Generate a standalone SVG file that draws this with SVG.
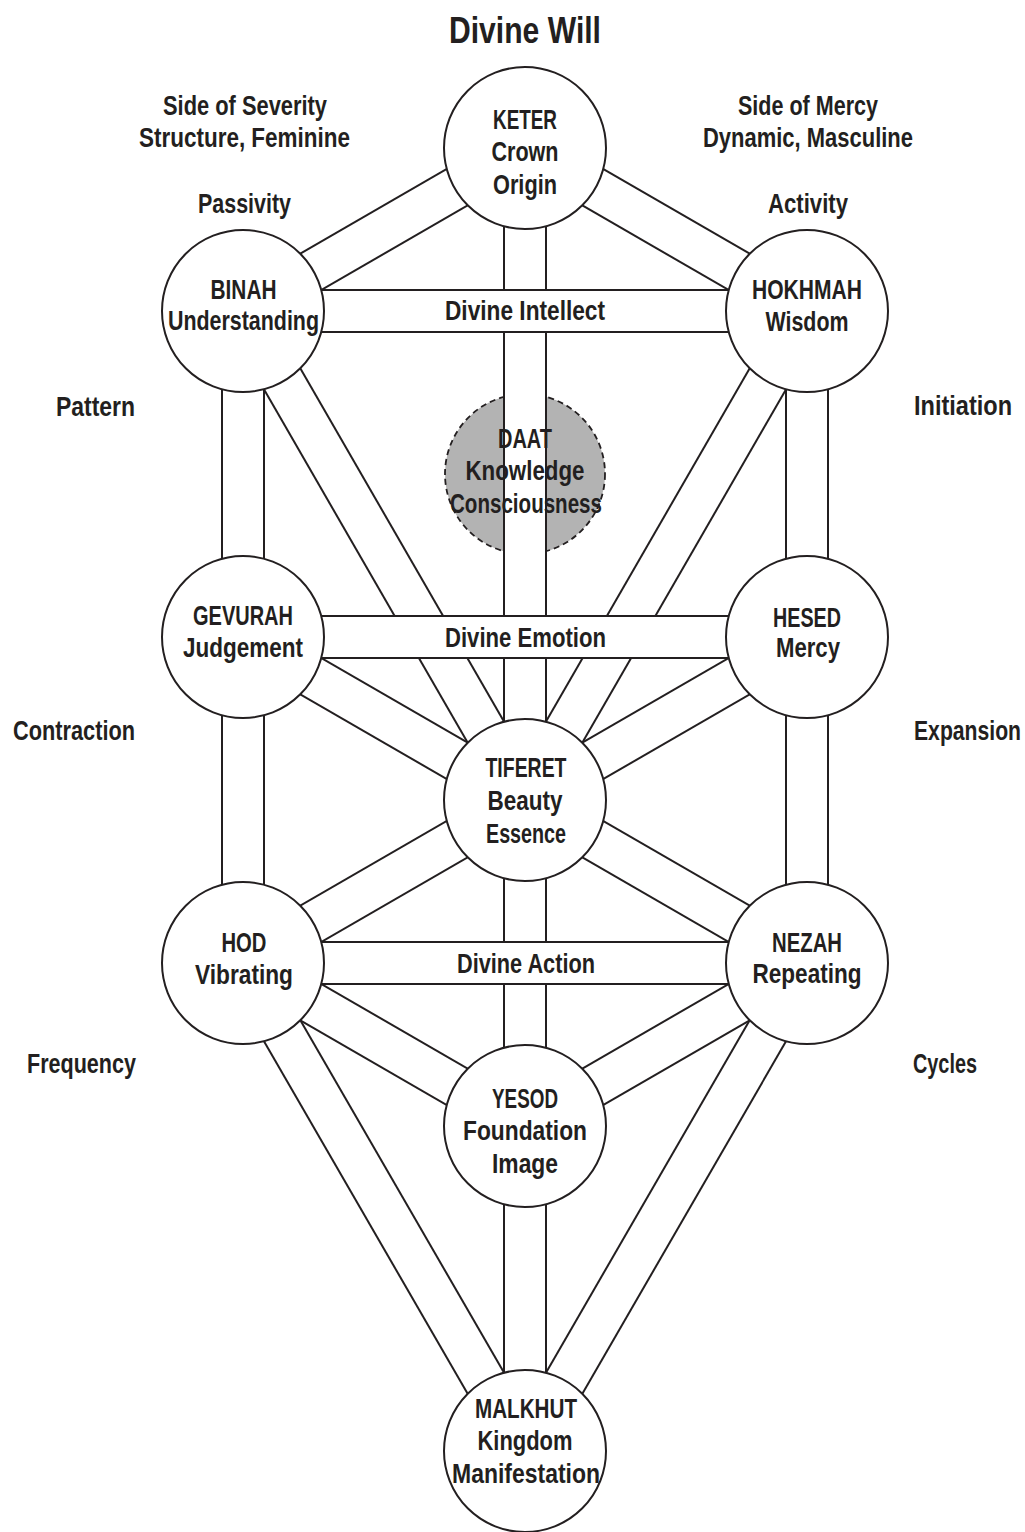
<svg xmlns="http://www.w3.org/2000/svg" width="1025" height="1532" viewBox="0 0 1025 1532">
<style>
.o{stroke:#231f20;stroke-width:44;fill:none}
.i{stroke:#fff;stroke-width:40;fill:none}
.n{fill:#fff;stroke:#231f20;stroke-width:2}
.d{fill:#b3b3b3;stroke:#231f20;stroke-width:1.8;stroke-dasharray:6 4}
.t{font-family:"Liberation Sans Narrow","Liberation Sans",Arial,sans-serif;font-weight:bold;font-size:28px;fill:#231f20;text-anchor:middle}
.e{text-anchor:end}
.s{text-anchor:start}
.h{font-size:37px}
</style>
<defs>
<clipPath id="daatclip">
<rect x="430" y="380" width="73" height="190"/>
<rect x="547" y="380" width="73" height="190"/>
</clipPath>
</defs>
<rect width="1025" height="1532" fill="#fff"/>

<g id="labels">
<text class="t h" x="525" y="43" textLength="152" lengthAdjust="spacingAndGlyphs">Divine Will</text>
<text class="t" x="245" y="115" textLength="164" lengthAdjust="spacingAndGlyphs">Side of Severity</text>
<text class="t" x="244.5" y="147" textLength="211" lengthAdjust="spacingAndGlyphs">Structure, Feminine</text>
<text class="t" x="808" y="115" textLength="140" lengthAdjust="spacingAndGlyphs">Side of Mercy</text>
<text class="t" x="808" y="147" textLength="210" lengthAdjust="spacingAndGlyphs">Dynamic, Masculine</text>
<text class="t" x="244.5" y="213" textLength="93" lengthAdjust="spacingAndGlyphs">Passivity</text>
<text class="t" x="808" y="213" textLength="80" lengthAdjust="spacingAndGlyphs">Activity</text>
<text class="t e" x="135" y="416" textLength="79" lengthAdjust="spacingAndGlyphs">Pattern</text>
<text class="t e" x="1012" y="415" textLength="98" lengthAdjust="spacingAndGlyphs">Initiation</text>
<text class="t e" x="135" y="740" textLength="122" lengthAdjust="spacingAndGlyphs">Contraction</text>
<text class="t e" x="1021" y="740" textLength="107" lengthAdjust="spacingAndGlyphs">Expansion</text>
<text class="t e" x="136" y="1073" textLength="109" lengthAdjust="spacingAndGlyphs">Frequency</text>
<text class="t s" x="913" y="1073" textLength="64" lengthAdjust="spacingAndGlyphs">Cycles</text>
</g>

<g id="connectors">
<g id="p-keter-tiferet"><line class="o" x1="525" y1="148" x2="525" y2="800"/><line class="i" x1="525" y1="148" x2="525" y2="800"/></g>
<g id="p-tiferet-yesod"><line class="o" x1="525" y1="800" x2="525" y2="1126"/><line class="i" x1="525" y1="800" x2="525" y2="1126"/></g>
<g id="p-yesod-malkhut"><line class="o" x1="525" y1="1126" x2="525" y2="1451"/><line class="i" x1="525" y1="1126" x2="525" y2="1451"/></g>
<g id="p-binah-gevurah"><line class="o" x1="243" y1="311" x2="243" y2="637"/><line class="i" x1="243" y1="311" x2="243" y2="637"/></g>
<g id="p-gevurah-hod"><line class="o" x1="243" y1="637" x2="243" y2="963"/><line class="i" x1="243" y1="637" x2="243" y2="963"/></g>
<g id="p-hokhmah-hesed"><line class="o" x1="807" y1="311" x2="807" y2="637"/><line class="i" x1="807" y1="311" x2="807" y2="637"/></g>
<g id="p-hesed-nezah"><line class="o" x1="807" y1="637" x2="807" y2="963"/><line class="i" x1="807" y1="637" x2="807" y2="963"/></g>

<g id="p-keter-binah"><line class="o" x1="525" y1="148" x2="243" y2="311"/><line class="i" x1="525" y1="148" x2="243" y2="311"/></g>
<g id="p-keter-hokhmah"><line class="o" x1="525" y1="148" x2="807" y2="311"/><line class="i" x1="525" y1="148" x2="807" y2="311"/></g>
<g id="p-binah-tiferet"><line class="o" x1="243" y1="311" x2="525" y2="800"/><line class="i" x1="243" y1="311" x2="525" y2="800"/></g>
<g id="p-hokhmah-tiferet"><line class="o" x1="807" y1="311" x2="525" y2="800"/><line class="i" x1="807" y1="311" x2="525" y2="800"/></g>
<g id="p-gevurah-tiferet"><line class="o" x1="243" y1="637" x2="525" y2="800"/><line class="i" x1="243" y1="637" x2="525" y2="800"/></g>
<g id="p-hesed-tiferet"><line class="o" x1="807" y1="637" x2="525" y2="800"/><line class="i" x1="807" y1="637" x2="525" y2="800"/></g>
<g id="p-tiferet-hod"><line class="o" x1="525" y1="800" x2="243" y2="963"/><line class="i" x1="525" y1="800" x2="243" y2="963"/></g>
<g id="p-tiferet-nezah"><line class="o" x1="525" y1="800" x2="807" y2="963"/><line class="i" x1="525" y1="800" x2="807" y2="963"/></g>
<g id="p-hod-yesod"><line class="o" x1="243" y1="963" x2="525" y2="1126"/><line class="i" x1="243" y1="963" x2="525" y2="1126"/></g>
<g id="p-nezah-yesod"><line class="o" x1="807" y1="963" x2="525" y2="1126"/><line class="i" x1="807" y1="963" x2="525" y2="1126"/></g>
<g id="p-hod-malkhut"><line class="o" x1="243" y1="963" x2="525" y2="1451"/><line class="i" x1="243" y1="963" x2="525" y2="1451"/></g>
<g id="p-nezah-malkhut"><line class="o" x1="807" y1="963" x2="525" y2="1451"/><line class="i" x1="807" y1="963" x2="525" y2="1451"/></g>

<g id="p-binah-hokhmah"><line class="o" x1="243" y1="311" x2="807" y2="311"/><line class="i" x1="243" y1="311" x2="807" y2="311"/>
<text class="t" x="525" y="320" textLength="160" lengthAdjust="spacingAndGlyphs">Divine Intellect</text></g>
<g id="p-gevurah-hesed"><line class="o" x1="243" y1="637" x2="807" y2="637"/><line class="i" x1="243" y1="637" x2="807" y2="637"/>
<text class="t" x="525.5" y="647" textLength="161" lengthAdjust="spacingAndGlyphs">Divine Emotion</text></g>
<g id="p-hod-nezah"><line class="o" x1="243" y1="963" x2="807" y2="963"/><line class="i" x1="243" y1="963" x2="807" y2="963"/>
<text class="t" x="526" y="973" textLength="138" lengthAdjust="spacingAndGlyphs">Divine Action</text></g>
</g>

<g id="daat">
<circle class="d" cx="525" cy="474" r="80" clip-path="url(#daatclip)"/>
<text class="t" x="525" y="448" textLength="54" lengthAdjust="spacingAndGlyphs">DAAT</text>
<text class="t" x="525" y="480" textLength="119" lengthAdjust="spacingAndGlyphs">Knowledge</text>
<text class="t" x="526" y="513" textLength="152" lengthAdjust="spacingAndGlyphs">Consciousness</text>
</g>

<g id="keter">
<circle class="n" cx="525" cy="148" r="81"/>
<text class="t" x="525" y="129" textLength="64" lengthAdjust="spacingAndGlyphs">KETER</text>
<text class="t" x="525" y="161" textLength="67" lengthAdjust="spacingAndGlyphs">Crown</text>
<text class="t" x="525" y="194" textLength="64" lengthAdjust="spacingAndGlyphs">Origin</text>
</g>

<g id="binah">
<circle class="n" cx="243" cy="311" r="81"/>
<text class="t" x="243.5" y="299" textLength="66" lengthAdjust="spacingAndGlyphs">BINAH</text>
<text class="t" x="243.5" y="330" textLength="151" lengthAdjust="spacingAndGlyphs">Understanding</text>
</g>

<g id="hokhmah">
<circle class="n" cx="807" cy="311" r="81"/>
<text class="t" x="807" y="299" textLength="110" lengthAdjust="spacingAndGlyphs">HOKHMAH</text>
<text class="t" x="807" y="331" textLength="83" lengthAdjust="spacingAndGlyphs">Wisdom</text>
</g>

<g id="gevurah">
<circle class="n" cx="243" cy="637" r="81"/>
<text class="t" x="243" y="625" textLength="100" lengthAdjust="spacingAndGlyphs">GEVURAH</text>
<text class="t" x="243" y="657" textLength="120" lengthAdjust="spacingAndGlyphs">Judgement</text>
</g>

<g id="hesed">
<circle class="n" cx="807" cy="637" r="81"/>
<text class="t" x="807" y="627" textLength="68" lengthAdjust="spacingAndGlyphs">HESED</text>
<text class="t" x="808" y="657" textLength="64" lengthAdjust="spacingAndGlyphs">Mercy</text>
</g>

<g id="tiferet">
<circle class="n" cx="525" cy="800" r="81"/>
<text class="t" x="526" y="777" textLength="81" lengthAdjust="spacingAndGlyphs">TIFERET</text>
<text class="t" x="525" y="810" textLength="75" lengthAdjust="spacingAndGlyphs">Beauty</text>
<text class="t" x="526" y="843" textLength="80" lengthAdjust="spacingAndGlyphs">Essence</text>
</g>

<g id="hod">
<circle class="n" cx="243" cy="963" r="81"/>
<text class="t" x="244" y="952" textLength="45" lengthAdjust="spacingAndGlyphs">HOD</text>
<text class="t" x="244" y="984" textLength="98" lengthAdjust="spacingAndGlyphs">Vibrating</text>
</g>

<g id="nezah">
<circle class="n" cx="807" cy="963" r="81"/>
<text class="t" x="807" y="952" textLength="70" lengthAdjust="spacingAndGlyphs">NEZAH</text>
<text class="t" x="807" y="983" textLength="109" lengthAdjust="spacingAndGlyphs">Repeating</text>
</g>

<g id="yesod">
<circle class="n" cx="525" cy="1126" r="81"/>
<text class="t" x="525" y="1108" textLength="66" lengthAdjust="spacingAndGlyphs">YESOD</text>
<text class="t" x="525" y="1140" textLength="124" lengthAdjust="spacingAndGlyphs">Foundation</text>
<text class="t" x="525" y="1173" textLength="66" lengthAdjust="spacingAndGlyphs">Image</text>
</g>

<g id="malkhut">
<circle class="n" cx="525" cy="1451" r="81"/>
<text class="t" x="526" y="1418" textLength="102" lengthAdjust="spacingAndGlyphs">MALKHUT</text>
<text class="t" x="525" y="1450" textLength="95" lengthAdjust="spacingAndGlyphs">Kingdom</text>
<text class="t" x="526" y="1483" textLength="148" lengthAdjust="spacingAndGlyphs">Manifestation</text>
</g>
</svg>
